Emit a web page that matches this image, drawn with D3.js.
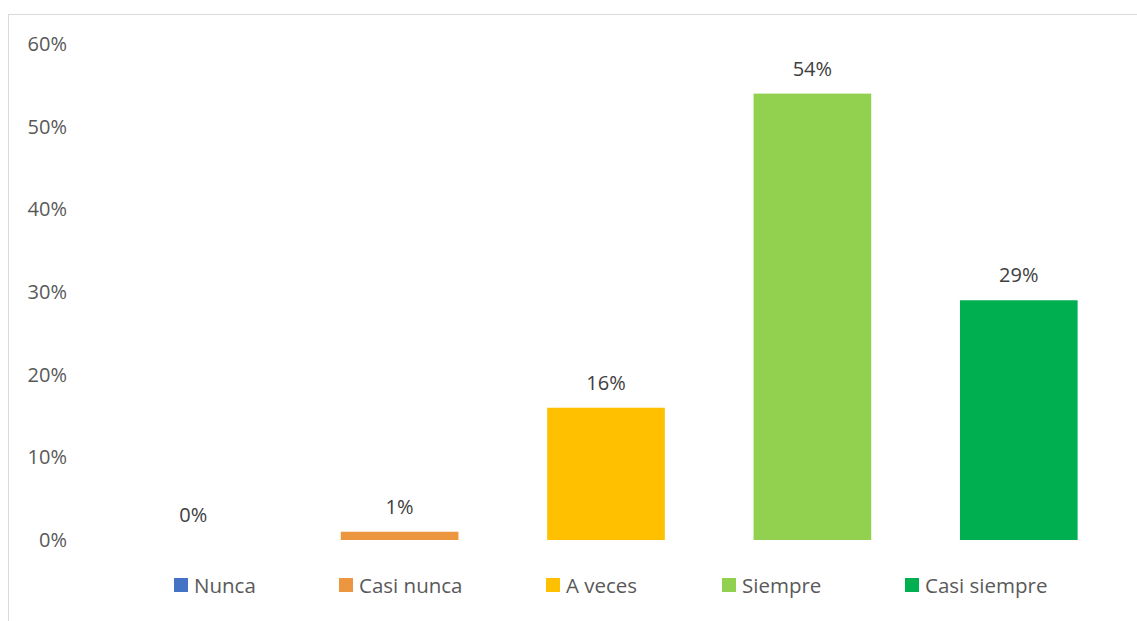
<!DOCTYPE html>
<html>
<head>
<meta charset="utf-8">
<script src="https://cdn.jsdelivr.net/npm/d3@7"></script>
<style>
  html, body { margin: 0; padding: 0; background: #fff; }
  svg { display: block; font-family: "Open Sans", Lato, sans-serif; }
</style>
</head>
<body>
<svg id="chart" width="1137" height="621"></svg>
<script>
const categories = ["Nunca", "Casi nunca", "A veces", "Siempre", "Casi siempre"];
const values = [0.00, 0.01, 0.16, 0.54, 0.29];
const valueLabels = ["0%", "1%", "16%", "54%", "29%"];
const colors = ["#4472C4", "#ED9640", "#FFC000", "#92D050", "#00B050"];
const yTicks = [0, 0.1, 0.2, 0.3, 0.4, 0.5, 0.6];

const svg = d3.select("#chart");
const textColor = "#595959";

// chart frame
svg.append("rect")
  .attr("x", 8.5).attr("y", 14.5)
  .attr("width", 1140).attr("height", 620)
  .attr("fill", "none").attr("stroke", "#d9d9d9").attr("stroke-width", 1);

const x = d3.scaleBand().domain(categories).range([90, 1122])
  .paddingInner(0.43).paddingOuter(0.215);
const y = d3.scaleLinear().domain([0, 0.6]).range([540, 44]);

// y axis labels only
const yAxis = d3.axisLeft(y).tickValues(yTicks)
  .tickFormat(d3.format(".0%")).tickSize(0).tickPadding(0);
const yg = svg.append("g").attr("transform", "translate(67,0)").call(yAxis);
yg.select(".domain").remove();
yg.selectAll("text").attr("fill", textColor).style("font-size", "20px")
  .style("font-family", "'Open Sans', Lato, sans-serif");

// bars
svg.append("g").selectAll("rect").data(values).join("rect")
  .attr("x", (d, i) => x(categories[i]))
  .attr("y", d => y(d))
  .attr("width", x.bandwidth())
  .attr("height", d => y(0) - y(d))
  .attr("fill", (d, i) => colors[i]);

// value labels
svg.append("g").selectAll("text").data(values).join("text")
  .attr("x", (d, i) => x(categories[i]) + x.bandwidth() / 2)
  .attr("y", d => y(d) - 18)
  .attr("text-anchor", "middle")
  .attr("fill", "#404040")
  .style("font-size", "20px")
  .text((d, i) => valueLabels[i]);

// legend
const legendX = [174, 339, 546, 722, 905];
const lg = svg.append("g").selectAll("g").data(categories).join("g")
  .attr("transform", (d, i) => `translate(${legendX[i]},578)`);
lg.append("rect").attr("width", 14).attr("height", 14)
  .attr("fill", (d, i) => colors[i]);
lg.append("text").attr("x", 20).attr("y", 15)
  .attr("fill", textColor).style("font-size", "20.5px")
  .text(d => d);
</script>
</body>
</html>
